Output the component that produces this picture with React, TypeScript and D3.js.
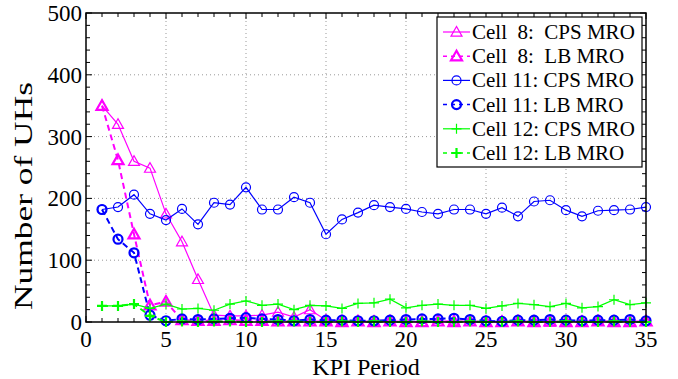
import React from "react";
import * as d3 from "d3";

const periods = d3.range(1, 36);

const cell8CPS = [350, 320, 260, 249, 175, 130, 69, 11, 10, 10, 11, 16, 8, 20, 3, 2, 1, 1, 1, 0, 1, 1, 2, 1, 0, 1, 1, 1, 0, 1, 1, 2, 1, 1, 1];
const cell8LB = [350, 262, 142, 27, 33, 3, 2, 2, 3, 2, 2, 1, 1, 1, 1, 0, 1, 0, 1, 0, 0, 1, 0, 1, 0, 0, 1, 0, 1, 0, 0, 1, 0, 0, 1];
const cell11CPS = [182, 186, 206, 175, 165, 183, 158, 193, 190, 218, 182, 182, 202, 193, 142, 166, 177, 189, 186, 183, 178, 175, 182, 182, 175, 185, 171, 195, 197, 181, 171, 180, 181, 182, 186];
const cell11LB = [182, 134, 112, 11, 2, 5, 4, 5, 6, 7, 5, 4, 2, 4, 3, 3, 2, 2, 3, 4, 5, 5, 6, 4, 2, 1, 3, 3, 4, 3, 2, 3, 3, 4, 2];
const cell12CPS = [26, 26, 29, 22, 29, 21, 22, 19, 29, 34, 27, 29, 20, 27, 26, 22, 30, 31, 37, 23, 27, 29, 27, 27, 22, 26, 30, 28, 25, 30, 23, 25, 36, 28, 31];
const cell12LB = [26, 26, 29, 10, 0, 1, 0, 1, 1, 0, 0, 1, 1, 0, 0, 1, 0, 1, 0, 0, 1, 0, 0, 1, 0, 0, 1, 0, 0, 1, 0, 0, 1, 0, 0];

const legendLabels = [
  "Cell  8:  CPS MRO",
  "Cell  8:  LB MRO",
  "Cell 11: CPS MRO",
  "Cell 11: LB MRO",
  "Cell 12: CPS MRO",
  "Cell 12: LB MRO",
];

const xTicks = [0, 5, 10, 15, 20, 25, 30, 35];
const yTicks = [0, 100, 200, 300, 400, 500];

type Marker = "tri" | "circ" | "plus";
const series: { values: number[]; color: string; dashed: boolean; marker: Marker }[] = [
  { values: cell8CPS, color: "#ff00ff", dashed: false, marker: "tri" },
  { values: cell8LB, color: "#ff00ff", dashed: true, marker: "tri" },
  { values: cell11CPS, color: "#0000ff", dashed: false, marker: "circ" },
  { values: cell11LB, color: "#0000ff", dashed: true, marker: "circ" },
  { values: cell12CPS, color: "#00ff00", dashed: false, marker: "plus" },
  { values: cell12LB, color: "#00ff00", dashed: true, marker: "plus" },
];

const W = 678;
const H = 379;
const left = 86, right = 646, top = 13, bottom = 322;
const FONT = '"Liberation Serif", "Times New Roman", serif';

function MarkerShape({ type, x, y, color, sw }: { type: Marker; x: number; y: number; color: string; sw: number }) {
  if (type === "tri") {
    const s = 5.5;
    const pts = `${x},${y - s} ${x - s},${y + s * 0.75} ${x + s},${y + s * 0.75}`;
    return <polygon points={pts} fill="none" stroke={color} strokeWidth={sw} />;
  }
  if (type === "circ") {
    return <circle cx={x} cy={y} r={4.5} fill="none" stroke={color} strokeWidth={sw} />;
  }
  const s = 5;
  return (
    <path d={`M${x - s},${y}H${x + s}M${x},${y - s}V${y + s}`} stroke={color} strokeWidth={sw} fill="none" />
  );
}

export default function App() {
  const x = d3.scaleLinear().domain([0, 35]).range([left, right]);
  const y = d3.scaleLinear().domain([0, 500]).range([bottom, top]);
  const line = d3
    .line<number>()
    .x((_, i) => x(periods[i]))
    .y((d) => y(d));

  const xMinor = d3.range(0, 36, 1);
  const yMinor = d3.range(0, 501, 20);

  const legX = 437, legY = 17, legW = 205, legH = 150, rowH = 24.2;

  return (
    <svg width={W} height={H} style={{ position: "absolute", left: 0, top: 0, background: "#fff" }} fontFamily={FONT}>
      <rect x={0} y={0} width={W} height={H} fill="#fff" />
      {xTicks.slice(1, -1).map((t) => (
        <line key={"gx" + t} x1={x(t)} x2={x(t)} y1={top} y2={bottom} stroke="#999" strokeWidth={1} strokeDasharray="1,3" />
      ))}
      {yTicks.slice(1, -1).map((t) => (
        <line key={"gy" + t} x1={left} x2={right} y1={y(t)} y2={y(t)} stroke="#999" strokeWidth={1} strokeDasharray="1,3" />
      ))}
      {xMinor.map((t) => {
        const len = t % 5 === 0 ? 6 : 4;
        return (
          <g key={"mx" + t}>
            <line x1={x(t)} x2={x(t)} y1={bottom} y2={bottom - len} stroke="#000" strokeWidth={1} />
            <line x1={x(t)} x2={x(t)} y1={top} y2={top + len} stroke="#000" strokeWidth={1} />
          </g>
        );
      })}
      {yMinor.map((t) => {
        const len = t % 100 === 0 ? 6 : 4;
        return (
          <g key={"my" + t}>
            <line x1={left} x2={left + len} y1={y(t)} y2={y(t)} stroke="#000" strokeWidth={1} />
            <line x1={right} x2={right - len} y1={y(t)} y2={y(t)} stroke="#000" strokeWidth={1} />
          </g>
        );
      })}
      {series.map((s, si) => (
        <g key={"s" + si}>
          <path
            d={line(s.values) || ""}
            fill="none"
            stroke={s.color}
            strokeWidth={s.dashed ? 2 : 1.2}
            strokeDasharray={s.dashed ? "6,4" : undefined}
          />
          {s.values.map((v, i) => (
            <MarkerShape key={i} type={s.marker} x={x(periods[i])} y={y(v)} color={s.color} sw={s.dashed ? 2.2 : 1.2} />
          ))}
        </g>
      ))}
      <rect x={left} y={top} width={right - left} height={bottom - top} fill="none" stroke="#000" strokeWidth={1.5} />
      {xTicks.map((t) => (
        <text key={"xl" + t} x={x(t)} y={347} textAnchor="middle" fontSize={23} fill="#000">
          {t}
        </text>
      ))}
      {yTicks.map((t) => (
        <text key={"yl" + t} x={82} y={y(t) + 8} textAnchor="end" fontSize={23} fill="#000">
          {t}
        </text>
      ))}
      <text x={(left + right) / 2} y={375} textAnchor="middle" fontSize={24} fill="#000">
        KPI Period
      </text>
      <text
        transform={`translate(32,196) rotate(-90)`}
        textAnchor="middle"
        fontSize={26}
        fill="#000"
        textLength={228}
        lengthAdjust="spacingAndGlyphs"
      >
        Number of UHs
      </text>
      <rect x={legX} y={legY} width={legW} height={legH} fill="#fff" stroke="#000" strokeWidth={1.2} />
      {series.map((s, i) => {
        const cy = legY + 15 + i * rowH;
        return (
          <g key={"lg" + i}>
            <line
              x1={443}
              x2={470}
              y1={cy}
              y2={cy}
              stroke={s.color}
              strokeWidth={s.dashed ? 1.5 : 1.2}
              strokeDasharray={s.dashed ? "4,4" : undefined}
            />
            <MarkerShape type={s.marker} x={456.5} y={cy} color={s.color} sw={s.dashed ? 2.2 : 1.2} />
            <text x={472} y={cy + 7} fontSize={21} fill="#000" style={{ whiteSpace: "pre" }}>
              {legendLabels[i]}
            </text>
          </g>
        );
      })}
    </svg>
  );
}
